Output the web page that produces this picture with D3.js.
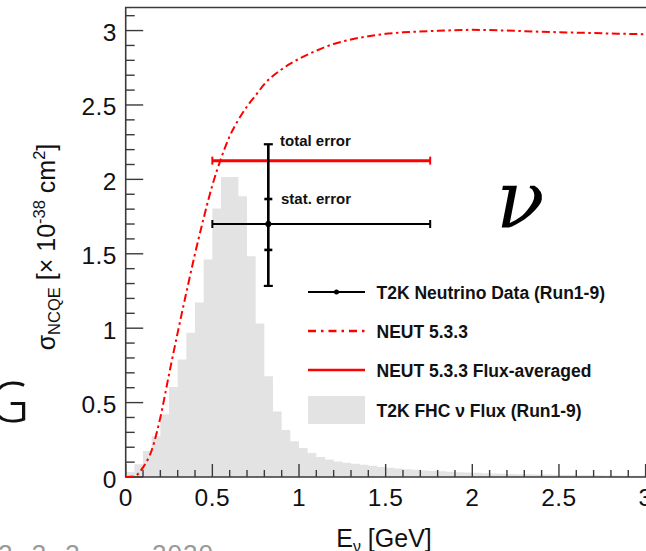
<!DOCTYPE html>
<html>
<head>
<meta charset="utf-8">
<script src="https://cdn.jsdelivr.net/npm/d3@7"></script>
<style>
  html, body { margin: 0; padding: 0; background: #fff; overflow: hidden; }
  svg { display: block; }
</style>
</head>
<body>
<svg id="chart" width="646" height="551"></svg>
<script>
// ---------------- data ----------------
// flux histogram: bin lower edges (GeV) and heights (arbitrary, drawn on sigma scale)
const fluxBinWidth = 0.05;
const fluxBinLow = [0.00,0.05,0.10,0.15,0.20,0.25,0.30,0.35,0.40,0.45,0.50,0.55,0.60,0.65,0.70,0.75,0.80,0.85,0.90,0.95,
  1.00,1.05,1.10,1.15,1.20,1.25,1.30,1.35,1.40,1.45,1.50,1.55,1.60,1.65,1.70,1.75,1.80,1.85,1.90,1.95,
  2.00,2.05,2.10,2.15,2.20,2.25,2.30,2.35,2.40,2.45,2.50,2.55,2.60,2.65,2.70,2.75,2.80,2.85,2.90,2.95,
  3.00,3.05,3.10,3.15];
const fluxValues = [0.034,0.085,0.175,0.273,0.421,0.605,0.789,0.970,1.172,1.461,1.804,2.016,2.016,1.886,1.483,1.031,0.677,0.440,0.315,0.240,
  0.195,0.162,0.135,0.117,0.104,0.096,0.089,0.082,0.075,0.068,0.062,0.057,0.052,0.048,0.044,0.041,0.038,0.035,0.032,0.030,
  0.028,0.026,0.024,0.022,0.021,0.019,0.018,0.017,0.016,0.015,0.014,0.013,0.012,0.012,0.011,0.010,0.010,0.009,0.009,0.008,
  0.008,0.007,0.007,0.006];

// NEUT 5.3.3 cross-section curve
const neutE     = [0,0.05,0.10,0.15,0.20,0.25,0.30,0.35,0.40,0.45,0.50,0.55,0.60,0.65,0.70,0.75,0.80,0.90,1.00,1.10,1.20,1.30,1.40,1.50,1.60,1.80,2.00,2.20,2.40,2.60,2.80,3.00,3.20];
const neutSigma = [0,0.005,0.065,0.18,0.40,0.69,0.97,1.24,1.50,1.74,1.96,2.14,2.29,2.40,2.49,2.565,2.64,2.74,2.81,2.865,2.91,2.94,2.962,2.978,2.988,2.998,3.005,3.0,2.992,2.986,2.98,2.975,2.97];

// T2K data point
const dataE = [0.823];
const dataSigma = [1.70];
const dataELow = [0.50];
const dataEHigh = [1.757];
const dataTotLow = [1.284];
const dataTotHigh = [2.236];
const dataStatLow = [1.526];
const dataStatHigh = [1.868];

// NEUT flux-averaged
const fluxAvgSigma = [2.126];
const fluxAvgELow = [0.50];
const fluxAvgEHigh = [1.757];

// axis ticks
const xTickValues = [0,0.5,1,1.5,2,2.5,3];
const xTickLabels = ["0","0.5","1","1.5","2","2.5","3"];
const yTickValues = [0,0.5,1,1.5,2,2.5,3];
const yTickLabels = ["0","0.5","1","1.5","2","2.5","3"];

// legend
const legendLabels = ["T2K Neutrino Data (Run1-9)","NEUT 5.3.3","NEUT 5.3.3 Flux-averaged","T2K FHC \u03bd Flux (Run1-9)"];

// ---------------- drawing ----------------
const svg = d3.select("#chart");
const font = "'Liberation Sans', Arial, Helvetica, sans-serif";
const axisColor = "#3a3a3a";
const red = "#ff0000";

const x = d3.scaleLinear().domain([0, 3.2]).range([125.7, 125.7 + 3.2 * 173.3]);
const y = d3.scaleLinear().domain([0, 3.155]).range([477, 7.5]);

// histogram (step area)
const histPts = fluxBinLow.map((e, i) => ({e: e, v: fluxValues[i]}));
histPts.push({e: fluxBinLow[fluxBinLow.length - 1] + fluxBinWidth, v: fluxValues[fluxValues.length - 1]});
const histArea = d3.area()
  .x(d => x(d.e)).y0(y(0)).y1(d => y(d.v))
  .curve(d3.curveStepAfter);
svg.append("path").datum(histPts)
  .attr("d", histArea).attr("fill", "#e3e3e3").attr("stroke", "none");

// frame
const x0 = x(0), x1 = x(3.2), yT = y(3.155), yB = y(0);
svg.append("path")
  .attr("d", `M${x1},${yT}H${x0}V${yB}H${x1}`)
  .attr("fill", "none").attr("stroke", axisColor).attr("stroke-width", 1.6);

// minor ticks
const xMinor = d3.range(0, 3.2001, 0.1).filter(v => !xTickValues.some(t => Math.abs(t - v) < 1e-6));
const yMinor = d3.range(0, 3.1001, 0.1).filter(v => !yTickValues.some(t => Math.abs(t - v) < 1e-6));
const tickG = svg.append("g").attr("stroke", axisColor).attr("stroke-width", 1.4);
tickG.selectAll("line.xmaj").data(xTickValues).join("line")
  .attr("x1", d => x(d)).attr("x2", d => x(d)).attr("y1", yB).attr("y2", yB - 13);
tickG.selectAll("line.xmin").data(xMinor).join("line")
  .attr("x1", d => x(d)).attr("x2", d => x(d)).attr("y1", yB).attr("y2", yB - 7);
tickG.selectAll("line.ymaj").data(yTickValues).join("line")
  .attr("x1", x0).attr("x2", x0 + 17.5).attr("y1", d => y(d)).attr("y2", d => y(d));
tickG.selectAll("line.ymin").data(yMinor).join("line")
  .attr("x1", x0).attr("x2", x0 + 9).attr("y1", d => y(d)).attr("y2", d => y(d));

// tick labels
svg.append("g").selectAll("text").data(xTickValues).join("text")
  .attr("x", d => x(d)).attr("y", 505.5)
  .attr("text-anchor", "middle")
  .attr("font-family", font).attr("font-size", 24.5).attr("letter-spacing", 0.5).attr("fill", "#111")
  .text((d, i) => xTickLabels[i]);
svg.append("g").selectAll("text").data(yTickValues).join("text")
  .attr("x", 117).attr("y", d => y(d) + 10.5)
  .attr("text-anchor", "end")
  .attr("font-family", font).attr("font-size", 24.5).attr("letter-spacing", 0.5).attr("fill", "#111")
  .text((d, i) => yTickLabels[i]);

// axis titles
const xt = svg.append("text").attr("x", 384).attr("y", 546.5).attr("text-anchor", "middle")
  .attr("font-family", font).attr("font-size", 25).attr("fill", "#111");
xt.append("tspan").text("E");
xt.append("tspan").attr("font-size", 16).attr("dy", 5).text("\u03bd");
xt.append("tspan").attr("dy", -5).text(" [GeV]");

const yt = svg.append("text").attr("transform", "translate(55,247) rotate(-90)")
  .attr("text-anchor", "middle").attr("font-family", font).attr("font-size", 25).attr("fill", "#111");
yt.append("tspan").text("\u03c3");
yt.append("tspan").attr("font-size", 16.5).attr("dy", 5).text("NCQE");
yt.append("tspan").attr("dy", -5).text(" [\u00d7 10");
yt.append("tspan").attr("font-size", 16.5).attr("dy", -10).text("-38");
yt.append("tspan").attr("dy", 10).text(" cm");
yt.append("tspan").attr("font-size", 16.5).attr("dy", -10).text("2");
yt.append("tspan").attr("dy", 10).text("]");

// NEUT curve
const neutPts = neutE.map((e, i) => ({e: e, s: neutSigma[i]}));
const clipId = "plotclip";
svg.append("clipPath").attr("id", clipId).append("rect")
  .attr("x", x0).attr("y", yT).attr("width", x1 - x0).attr("height", yB - yT);
svg.append("path").datum(neutPts)
  .attr("clip-path", `url(#${clipId})`)
  .attr("d", d3.line().x(d => x(d.e)).y(d => y(d.s)).curve(d3.curveMonotoneX))
  .attr("fill", "none").attr("stroke", red).attr("stroke-width", 2)
  .attr("stroke-dasharray", "8,3.5,2.5,3.5");

// flux-averaged red line with end caps
const fa = svg.append("g").attr("stroke", red);
fluxAvgSigma.forEach((s, i) => {
  fa.append("line").attr("x1", x(fluxAvgELow[i])).attr("x2", x(fluxAvgEHigh[i]))
    .attr("y1", y(s)).attr("y2", y(s)).attr("stroke-width", 3);
  [fluxAvgELow[i], fluxAvgEHigh[i]].forEach(e => {
    fa.append("line").attr("x1", x(e)).attr("x2", x(e)).attr("y1", y(s) - 4).attr("y2", y(s) + 4).attr("stroke-width", 2);
  });
});

// data point with errors
const dg = svg.append("g").attr("stroke", "#000");
dataE.forEach((e, i) => {
  const cx = x(e), cy = y(dataSigma[i]);
  dg.append("line").attr("x1", x(dataELow[i])).attr("x2", x(dataEHigh[i]))
    .attr("y1", cy).attr("y2", cy).attr("stroke-width", 2);
  [dataELow[i], dataEHigh[i]].forEach(v => {
    dg.append("line").attr("x1", x(v)).attr("x2", x(v)).attr("y1", cy - 4).attr("y2", cy + 4).attr("stroke-width", 2);
  });
  dg.append("line").attr("x1", cx).attr("x2", cx)
    .attr("y1", y(dataTotHigh[i])).attr("y2", y(dataTotLow[i])).attr("stroke-width", 2.6);
  [dataTotHigh[i], dataTotLow[i]].forEach(v => {
    dg.append("line").attr("x1", cx - 4.5).attr("x2", cx + 4.5).attr("y1", y(v)).attr("y2", y(v)).attr("stroke-width", 2.2);
  });
  [dataStatHigh[i], dataStatLow[i]].forEach(v => {
    dg.append("line").attr("x1", cx - 4).attr("x2", cx + 4).attr("y1", y(v)).attr("y2", y(v)).attr("stroke-width", 2.6);
  });
  dg.append("circle").attr("cx", cx).attr("cy", cy).attr("r", 3).attr("fill", "#000").attr("stroke", "none");
});

// annotations
svg.append("text").attr("x", 280).attr("y", 146).attr("font-family", font).attr("font-weight", "bold")
  .attr("font-size", 15).attr("fill", "#111").text("total error");
svg.append("text").attr("x", 281).attr("y", 203.5).attr("font-family", font).attr("font-weight", "bold")
  .attr("font-size", 15).attr("fill", "#111").text("stat. error");

// legend
const lgX0 = 308, lgX1 = 365, lgText = 376.5;
const rowY = [292, 331, 370, 410];
const lg = svg.append("g");
lg.append("line").attr("x1", lgX0).attr("x2", lgX1).attr("y1", rowY[0]).attr("y2", rowY[0])
  .attr("stroke", "#000").attr("stroke-width", 2);
lg.append("circle").attr("cx", (lgX0 + lgX1) / 2).attr("cy", rowY[0]).attr("r", 2.5).attr("fill", "#000");
lg.append("line").attr("x1", lgX0).attr("x2", lgX1).attr("y1", rowY[1]).attr("y2", rowY[1])
  .attr("stroke", red).attr("stroke-width", 2.5).attr("stroke-dasharray", "8,5,2.5,5");
lg.append("line").attr("x1", lgX0).attr("x2", lgX1).attr("y1", rowY[2]).attr("y2", rowY[2])
  .attr("stroke", red).attr("stroke-width", 2.5);
lg.append("rect").attr("x", lgX0).attr("y", rowY[3] - 14).attr("width", lgX1 - lgX0).attr("height", 28)
  .attr("fill", "#e3e3e3");
lg.selectAll("text").data(legendLabels).join("text")
  .attr("x", lgText).attr("y", (d, i) => rowY[i] + 7.3)
  .attr("font-family", font).attr("font-weight", "bold").attr("font-size", 17.5).attr("fill", "#111")
  .text(d => d);

// large nu symbol
svg.append("text").attr("x", 496).attr("y", 228).attr("font-family", "'DejaVu Serif', serif")
  .attr("font-style", "italic").attr("font-size", 80).attr("fill", "#000").text("\u03bd");

// partial "G" at left edge
svg.append("text").attr("x", -11).attr("y", 421.5).attr("font-family", "'Noto Sans', sans-serif")
  .attr("font-weight", 300).attr("font-size", 56).attr("fill", "#111").text("G");

// faint footer text (mostly cut off)
svg.append("text").attr("x", -2).attr("y", 563).attr("font-family", font)
  .attr("font-size", 26).attr("fill", "#999").attr("letter-spacing", 6).text("2.3.3");
svg.append("text").attr("x", 152).attr("y", 563).attr("font-family", font)
  .attr("font-size", 26).attr("fill", "#999").attr("letter-spacing", 1).text("2020");
</script>
</body>
</html>
